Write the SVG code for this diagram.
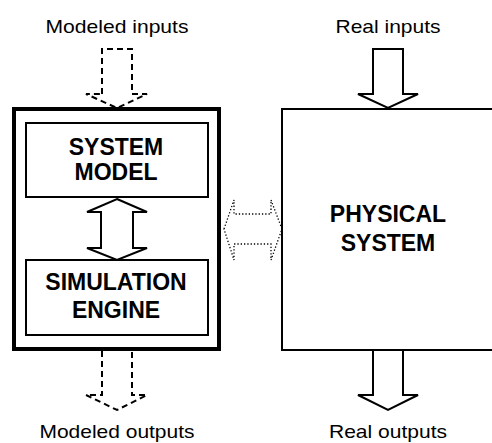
<svg xmlns="http://www.w3.org/2000/svg" width="492" height="443" viewBox="0 0 492 443">
<style>
.lbl{font-family:"Liberation Sans",Arial,sans-serif;font-size:18.5px;fill:#000;text-anchor:middle}
.bold{font-family:"Liberation Sans",Arial,sans-serif;font-size:23px;font-weight:bold;fill:#000;text-anchor:middle}
.box{fill:#fff;stroke:#000;stroke-width:2}
.arrow{fill:#fff;stroke:#000;stroke-width:2;stroke-linejoin:miter}
.dashed{fill:none;stroke:#000;stroke-width:2;stroke-dasharray:6,4}
.dotted{fill:none;stroke:#000;stroke-width:1.3;stroke-dasharray:1.3,2}
</style>
<rect width="492" height="443" fill="#fff"/>
<g id="labels">
<text class="lbl" x="117" y="33" textLength="143" lengthAdjust="spacingAndGlyphs">Modeled inputs</text>
<text class="lbl" x="388" y="33" textLength="105" lengthAdjust="spacingAndGlyphs">Real inputs</text>
<text class="lbl" x="117" y="438" textLength="155" lengthAdjust="spacingAndGlyphs">Modeled outputs</text>
<text class="lbl" x="388" y="438" textLength="118" lengthAdjust="spacingAndGlyphs">Real outputs</text>
</g>
<g id="simulator">
<rect x="14" y="109" width="205" height="240" fill="#fff" stroke="#000" stroke-width="4"/>
</g>
<g id="system-model">
<rect class="box" x="26" y="123" width="182" height="74"/>
<text class="bold" x="116" y="155">SYSTEM</text>
<text class="bold" x="116" y="180">MODEL</text>
</g>
<g id="simulation-engine">
<rect class="box" x="26" y="260" width="182" height="75"/>
<text class="bold" x="116" y="290">SIMULATION</text>
<text class="bold" x="116" y="318">ENGINE</text>
</g>
<g id="physical-system">
<rect class="box" x="282" y="109" width="230" height="241"/>
<text class="bold" x="388" y="222">PHYSICAL</text>
<text class="bold" x="388" y="251">SYSTEM</text>
</g>
<g id="connectors">
<path class="dashed" d="M102,94 V49 H132 V94 H147 L117,108 L86,94 Z"/>
<path class="dashed" d="M102,351 V395 H86 L117,410 L147,395 H132 V351"/>
<path class="arrow" d="M117,199 L147,212 H133 V248 H147 L117,260 L87,248 H101 V212 H87 Z"/>
<path class="dotted" d="M224,229 L234,200 V214 H271 V200 L282,229 L271,260 V244 H234 V260 Z"/>
<path class="arrow" d="M373,94 V49 H403 V94 H418 L388,108 L358,94 Z"/>
<path class="arrow" d="M373,351 V395 H358 L388,410 L418,395 H403 V351"/>
</g>
</svg>
